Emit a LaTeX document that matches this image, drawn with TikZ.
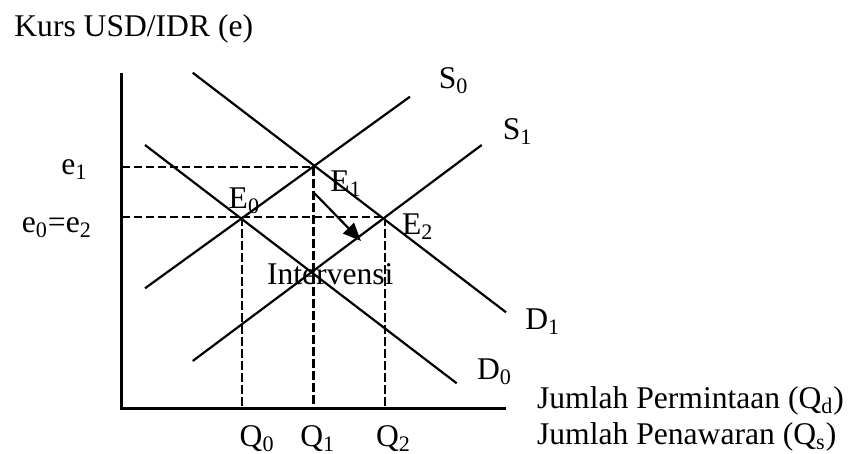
\documentclass[tikz,border=0pt]{standalone}
\usepackage{fontspec}
\setmainfont{Liberation Serif}
\usetikzlibrary{arrows.meta}
\begin{document}
\begin{tikzpicture}[x=0.5pt,y=-0.5pt,
  lbl/.style={anchor=base west, inner sep=0pt, font=\fontsize{15.8}{18}\selectfont},
  axisline/.style={line width=1.6pt, line join=miter},
  curve/.style={line width=1.1pt},
  guide/.style={line width=1.2pt, dash pattern=on 4.2pt off 1.8pt},
  shiftarrow/.style={line width=1.1pt, -{Triangle[length=9pt,width=7.5pt]}},
]
\useasboundingbox (0,0) rectangle (848,454);
% key points
\coordinate (ytop) at (121.5,73);
\coordinate (origin) at (121.5,408.5);
\coordinate (xend) at (506,408.5);
\coordinate (E0) at (241.7,217.3);
\coordinate (E1) at (313.3,167.3);
\coordinate (E2) at (385,217.3);
\coordinate (e1ax) at (121.5,167.3);
\coordinate (e0ax) at (121.5,217.3);
\coordinate (Q0ax) at (241.7,408.5);
\coordinate (Q1ax) at (313.3,408.5);
\coordinate (Q2ax) at (385,408.5);
\coordinate (D1a) at (192.7,72.7);
\coordinate (D1b) at (506,312.3);
\coordinate (S0a) at (145,288.3);
\coordinate (S0b) at (410,96.7);
\coordinate (D0a) at (145,145);
\coordinate (D0b) at (456.7,383.3);
\coordinate (S1a) at (192.7,361);
\coordinate (S1b) at (481.7,145);
\coordinate (arrA) at (314.5,193.3);
\coordinate (arrB) at (361,241);
% guides
\draw[guide] (e1ax) -- (E1);
\draw[guide] (e0ax) -- (E2);
\draw[guide] (E0) -- (Q0ax);
\draw[guide] (E1) -- (Q1ax);
\draw[guide] (E2) -- (Q2ax);
% curves
\draw[curve] (D1a) -- (D1b);
\draw[curve] (S0a) -- (S0b);
\draw[curve] (D0a) -- (D0b);
\draw[curve] (S1a) -- (S1b);
% axes
\draw[axisline] (ytop) -- (origin) -- (xend);
% shift arrow
\draw[shiftarrow] (arrA) -- (arrB);
% labels
\node[lbl] (ylab) at (14,37) {Kurs USD/IDR (e)};
\node[lbl] (s0lab) at (438.5,88.5) {S\textsubscript{0}};
\node[lbl] (s1lab) at (502.5,139.5) {S\textsubscript{1}};
\node[lbl] (e1lab) at (61,174.5) {e\textsubscript{1}};
\node[lbl] (e0lab) at (21.5,232.5) {e\textsubscript{0}=e\textsubscript{2}};
\node[lbl] (E1lab) at (330,191.5) {E\textsubscript{1}};
\node[lbl] (E0lab) at (228.3,208.3) {E\textsubscript{0}};
\node[lbl] (E2lab) at (401.7,235) {E\textsubscript{2}};
\node[lbl] (intlab) at (266.7,285) {Intervensi};
\node[lbl] (d1lab) at (525,330) {D\textsubscript{1}};
\node[lbl] (d0lab) at (476.7,380) {D\textsubscript{0}};
\node[lbl] (qdlab) at (536.7,408.3) {Jumlah Permintaan (Q\textsubscript{d})};
\node[lbl] (qslab) at (536.7,445) {Jumlah Penawaran (Q\textsubscript{s})};
\node[lbl] (q0lab) at (239.3,446.5) {Q\textsubscript{0}};
\node[lbl] (q1lab) at (300,446.5) {Q\textsubscript{1}};
\node[lbl] (q2lab) at (375.7,446.5) {Q\textsubscript{2}};
\end{tikzpicture}
\end{document}
